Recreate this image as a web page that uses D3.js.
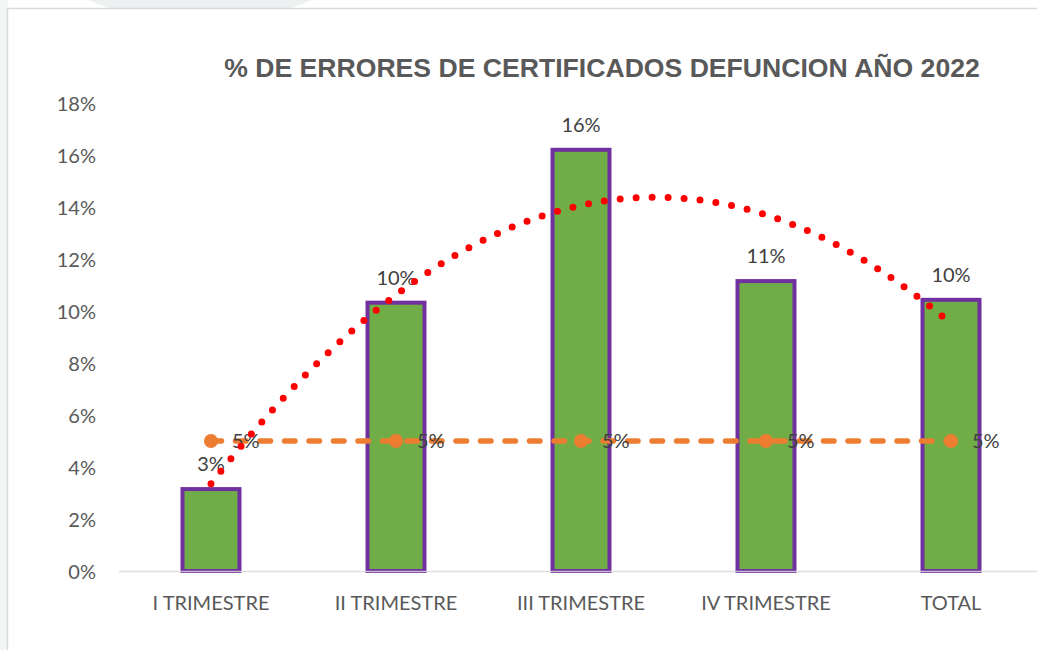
<!DOCTYPE html>
<html>
<head>
<meta charset="utf-8">
<script src="https://cdn.jsdelivr.net/npm/d3@7"></script>
<style>
  html, body { margin: 0; padding: 0; background: #ffffff; }
  svg { display: block; }
</style>
</head>
<body>
<svg id="chart" width="1037" height="650"></svg>
<script>
// ---- DATA ----
const title = "% DE ERRORES DE CERTIFICADOS DEFUNCION AÑO 2022";
const categories = ["I TRIMESTRE", "II TRIMESTRE", "III TRIMESTRE", "IV TRIMESTRE", "TOTAL"];
const errorValues = [0.0315, 0.1032, 0.162, 0.1115, 0.1043];
const targetValues = [0.05, 0.05, 0.05, 0.05, 0.05];
const yTicks = [0, 0.02, 0.04, 0.06, 0.08, 0.10, 0.12, 0.14, 0.16, 0.18];

// ---- SETUP ----
const svg = d3.select("#chart");
const W = 1037, H = 650;

// faint slide background outside the chart frame
svg.append("rect").attr("x", 0).attr("y", 0).attr("width", W).attr("height", H).attr("fill", "#ffffff");
svg.append("ellipse").attr("cx", 200).attr("cy", -40).attr("rx", 150).attr("ry", 60).attr("fill", "#eef1f1");
svg.append("rect").attr("x", 0).attr("y", 0).attr("width", 8).attr("height", H).attr("fill", "#f4f6f6");

// chart frame
svg.append("rect")
  .attr("x", 7.5).attr("y", 8.5)
  .attr("width", W + 10).attr("height", H + 10)
  .attr("fill", "#ffffff")
  .attr("stroke", "#d9d9d9").attr("stroke-width", 1.5);

const x = d3.scaleBand()
  .domain(categories)
  .range([118.5, 1043.5])
  .paddingInner(0.692)
  .paddingOuter(0.346);

const y = d3.scaleLinear().domain([0, 0.18]).range([571, 103]);

const fmt = d3.format(".0%");
const cx = c => x(c) + x.bandwidth() / 2;
const labelFont = "Lato, 'Open Sans', sans-serif";

// title
svg.append("text")
  .attr("x", 602).attr("y", 77)
  .attr("text-anchor", "middle")
  .attr("font-family", "'Liberation Sans', Arial, sans-serif")
  .attr("font-weight", "bold")
  .attr("font-size", 26.6)
  .attr("fill", "#595959")
  .text(title);

// y axis (labels only)
const yAxis = d3.axisLeft(y).tickValues(yTicks).tickFormat(fmt).tickSize(0).tickPadding(0);
const yg = svg.append("g").attr("transform", "translate(96,0)").call(yAxis);
yg.select(".domain").remove();
yg.selectAll("text")
  .attr("font-family", labelFont)
  .attr("font-size", 20)
  .attr("fill", "#595959")
  .attr("dy", "0.36em");

// bars
svg.append("g").selectAll("rect")
  .data(errorValues)
  .join("rect")
  .attr("x", (d, i) => x(categories[i]))
  .attr("y", d => y(d))
  .attr("width", x.bandwidth())
  .attr("height", d => y(0) - y(d))
  .attr("fill", "#70AD47")
  .attr("stroke", "#7030A0")
  .attr("stroke-width", 4);

// x axis
const xAxis = d3.axisBottom(x).tickSize(0).tickPadding(0);
const xg = svg.append("g").attr("transform", `translate(0,${y(0)})`).call(xAxis);
xg.select(".domain").attr("stroke", "#d9d9d9").attr("stroke-width", 1.5).attr("stroke-opacity", 0.85);
xg.selectAll("text")
  .attr("font-family", labelFont)
  .attr("font-size", 20)
  .attr("fill", "#595959")
  .attr("y", 38.5)
  .attr("dy", 0);

// bar data labels
svg.append("g").selectAll("text")
  .data(errorValues)
  .join("text")
  .attr("x", (d, i) => cx(categories[i]))
  .attr("y", d => y(d) - 18)
  .attr("text-anchor", "middle")
  .attr("font-family", labelFont)
  .attr("font-size", 20)
  .attr("fill", "#404040")
  .text(d => fmt(d));

// target line (dashed orange with circle markers)
const tLine = d3.line().x((d, i) => cx(categories[i])).y(d => y(d));
svg.append("path")
  .datum(targetValues)
  .attr("d", tLine)
  .attr("fill", "none")
  .attr("stroke", "#ED7D31")
  .attr("stroke-width", 5.5)
  .attr("stroke-linecap", "round")
  .attr("stroke-dasharray", "10.5 14");
svg.append("g").selectAll("circle")
  .data(targetValues)
  .join("circle")
  .attr("cx", (d, i) => cx(categories[i]))
  .attr("cy", d => y(d))
  .attr("r", 7)
  .attr("fill", "#ED7D31");
svg.append("g").selectAll("text")
  .data(targetValues)
  .join("text")
  .attr("x", (d, i) => cx(categories[i]) + 21)
  .attr("y", d => y(d))
  .attr("dy", "0.36em")
  .attr("font-family", labelFont)
  .attr("font-size", 20)
  .attr("fill", "#404040")
  .text(d => fmt(d));

// polynomial (order 2) trendline fitted to the bar values
const n = errorValues.length;
const ts = errorValues.map((d, i) => i + 1);
const tMean = d3.mean(ts);
const u = ts.map(t => t - tMean);
const Sy = d3.sum(errorValues), Su2 = d3.sum(u, v => v * v), Su4 = d3.sum(u, v => v ** 4);
const Suy = d3.sum(u, (v, i) => v * errorValues[i]);
const Su2y = d3.sum(u, (v, i) => v * v * errorValues[i]);
const cq = (Su2y - Su2 * Sy / n) / (Su4 - Su2 * Su2 / n);
const bq = Suy / Su2;
const aq = (Sy - cq * Su2) / n;
const trend = d3.range(1, 5.0001, 0.02).map(t => {
  const v = t - tMean;
  return { t, v: aq + bq * v + cq * v * v };
});
const xT = d3.scaleLinear().domain([1, n]).range([cx(categories[0]), cx(categories[n - 1])]);
svg.append("path")
  .datum(trend)
  .attr("d", d3.line().x(d => xT(d.t)).y(d => y(d.v)))
  .attr("fill", "none")
  .attr("stroke", "#FF0000")
  .attr("stroke-width", 7)
  .attr("stroke-linecap", "round")
  .attr("stroke-dasharray", "0 16");
</script>
</body>
</html>
